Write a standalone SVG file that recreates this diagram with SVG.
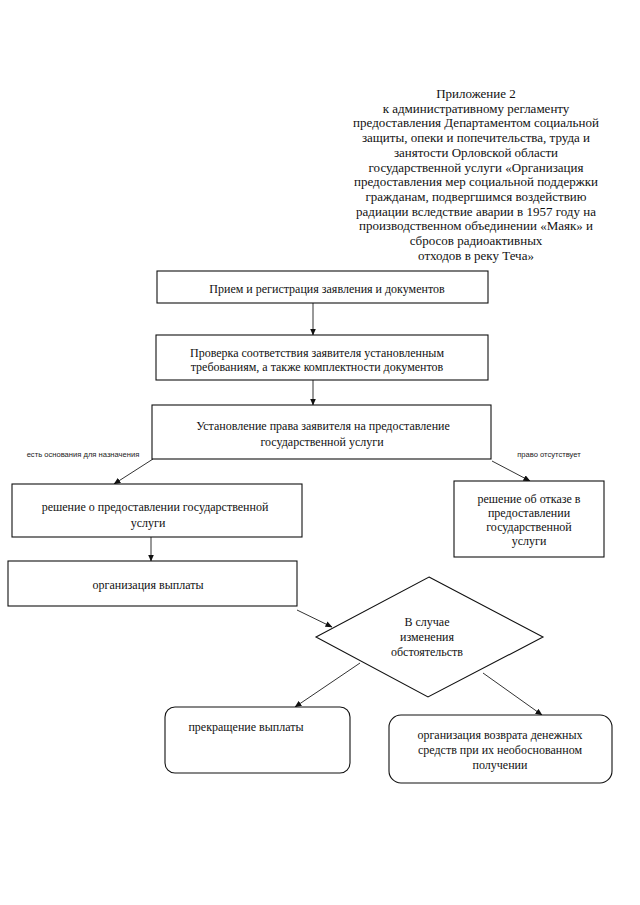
<svg xmlns="http://www.w3.org/2000/svg" width="640" height="905" viewBox="0 0 640 905">
<defs>
<marker id="ah" markerWidth="7" markerHeight="6" refX="6.5" refY="3" orient="auto" markerUnits="userSpaceOnUse">
<path d="M0,0 L7,3 L0,6 z" fill="#111"/>
</marker>
<style>
.t{font-family:"Liberation Serif","Times New Roman",serif;font-size:12px;fill:#111;text-anchor:middle}
.h{font-family:"Liberation Serif","Times New Roman",serif;font-size:13px;fill:#111;text-anchor:middle}
.s{font-family:"Liberation Sans",Arial,sans-serif;font-size:7.6px;fill:#222;text-anchor:middle}
.b{fill:#fff;stroke:#111;stroke-width:1.1}
.c{fill:none;stroke:#333;stroke-width:1;marker-end:url(#ah)}
</style>
</defs>
<rect width="640" height="905" fill="#fff"/>
<g id="header">
<text class="h" x="476" y="98">Приложение 2</text>
<text class="h" x="476" y="112.7">к административному регламенту</text>
<text class="h" x="476" y="127.4">предоставления Департаментом социальной</text>
<text class="h" x="476" y="142.1">защиты, опеки и попечительства, труда и</text>
<text class="h" x="476" y="156.8">занятости Орловской области</text>
<text class="h" x="476" y="171.5">государственной услуги «Организация</text>
<text class="h" x="476" y="186.2">предоставления мер социальной поддержки</text>
<text class="h" x="476" y="200.9">гражданам, подвергшимся воздействию</text>
<text class="h" x="476" y="215.6">радиации вследствие аварии в 1957 году на</text>
<text class="h" x="476" y="230.3">производственном объединении «Маяк» и</text>
<text class="h" x="476" y="245">сбросов радиоактивных</text>
<text class="h" x="476" y="259.7">отходов в реку Теча»</text>
</g>
<g id="connectors">
<line class="c" x1="313" y1="303" x2="313" y2="335"/>
<line class="c" x1="313" y1="380" x2="313" y2="405"/>
<line class="c" x1="153" y1="459" x2="114" y2="484"/>
<line class="c" x1="492" y1="461" x2="530" y2="481"/>
<line class="c" x1="151" y1="537" x2="151" y2="561"/>
<line class="c" x1="297" y1="610" x2="332" y2="627"/>
<line class="c" x1="360" y1="663" x2="295" y2="707"/>
<line class="c" x1="483" y1="673" x2="542" y2="715"/>
<text class="s" x="83" y="457">есть основания для назначения</text>
<text class="s" x="549" y="457">право отсутствует</text>
</g>
<g id="n1">
<rect class="b" x="157" y="271" width="331" height="32"/>
<text class="t" x="327" y="293">Прием и регистрация заявления и документов</text>
</g>
<g id="n2">
<rect class="b" x="156" y="335" width="332" height="45"/>
<text class="t" x="317" y="357">Проверка соответствия заявителя установленным</text>
<text class="t" x="317" y="371">требованиям, а также комплектности документов</text>
</g>
<g id="n3">
<rect class="b" x="152" y="405" width="339" height="54"/>
<text class="t" x="323" y="430">Установление права заявителя на предоставление</text>
<text class="t" x="322" y="446">государственной услуги</text>
</g>
<g id="n4">
<rect class="b" x="12" y="484" width="290" height="53"/>
<text class="t" x="155" y="511">решение о предоставлении государственной</text>
<text class="t" x="148" y="527">услуги</text>
</g>
<g id="n5">
<rect class="b" x="454" y="481" width="150" height="76"/>
<text class="t" x="529" y="503">решение об отказе в</text>
<text class="t" x="529" y="517">предоставлении</text>
<text class="t" x="529" y="531">государственной</text>
<text class="t" x="529" y="545">услуги</text>
</g>
<g id="n6">
<rect class="b" x="8" y="561" width="289" height="45"/>
<text class="t" x="148" y="589">организация выплаты</text>
</g>
<g id="n7">
<polygon class="b" points="429,577 543,637 428,697 316,637"/>
<text class="t" x="427" y="626">В случае</text>
<text class="t" x="427" y="641">изменения</text>
<text class="t" x="427" y="656">обстоятельств</text>
</g>
<g id="n8">
<rect class="b" x="165" y="707" width="185" height="66" rx="10" ry="10"/>
<text class="t" x="246" y="731">прекращение выплаты</text>
</g>
<g id="n9">
<rect class="b" x="389" y="715" width="223" height="68" rx="12" ry="12"/>
<text class="t" x="500" y="739">организация возврата денежных</text>
<text class="t" x="500" y="754">средств при их необоснованном</text>
<text class="t" x="500" y="769">получении</text>
</g>
</svg>
